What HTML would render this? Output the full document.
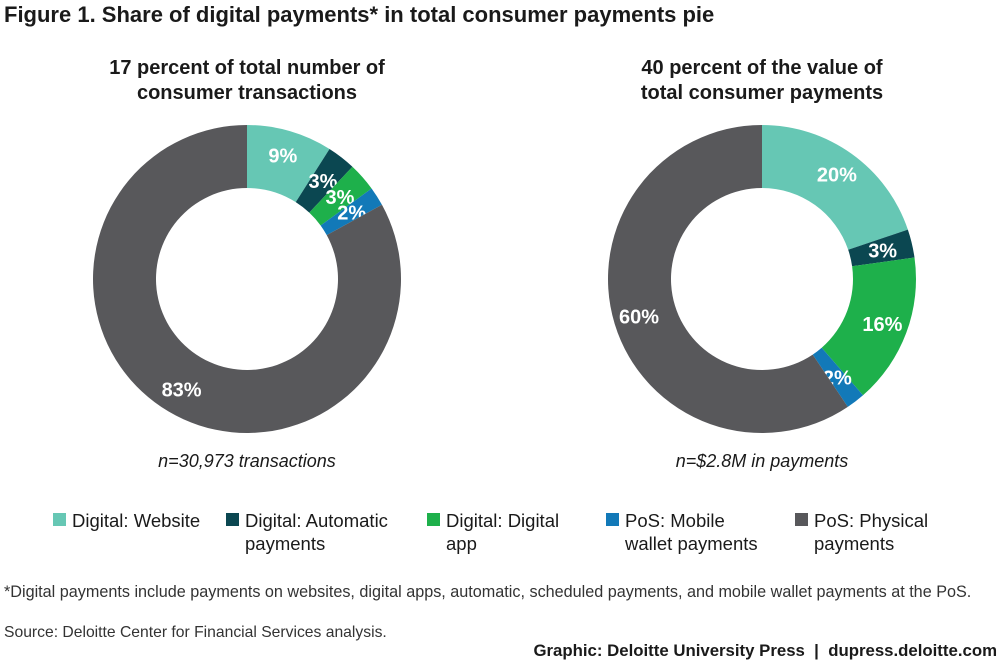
<!DOCTYPE html>
<html><head><meta charset="utf-8"><style>
body{margin:0;background:#fff;font-family:"Liberation Sans",sans-serif;color:#1a1a1a}
#wrap{position:relative;width:1000px;height:664px;overflow:hidden}
.t{position:absolute;white-space:nowrap}
</style></head><body><div id="wrap">
<div class="t" style="left:4px;top:2px;font-size:22px;font-weight:bold">Figure 1. Share of digital payments* in total consumer payments pie</div>
<div class="t" style="left:50px;width:394px;top:56px;text-align:center;font-size:20px;font-weight:bold;line-height:25px;white-space:normal">17 percent of total number of<br>consumer transactions</div>
<div class="t" style="left:565px;width:394px;top:56px;text-align:center;font-size:20px;font-weight:bold;line-height:25px;white-space:normal">40 percent of the value of<br>total consumer payments</div>
<svg id="chart" width="1000" height="664" style="position:absolute;left:0;top:0"></svg>
<div class="t" style="left:50px;width:394px;top:451px;text-align:center;font-size:18px;font-style:italic">n=30,973 transactions</div>
<div class="t" style="left:565px;width:394px;top:451px;text-align:center;font-size:18px;font-style:italic">n=$2.8M in payments</div>
<div id="legend"></div>
<div class="t" style="left:4px;top:583px;font-size:16.2px;color:#333">*Digital payments include payments on websites, digital apps, automatic, scheduled payments, and mobile wallet payments at the PoS.</div>
<div class="t" style="left:4px;top:624px;font-size:15.7px;color:#333">Source: Deloitte Center for Financial Services analysis.</div>
<div class="t" style="right:3px;top:641px;font-size:16.8px;font-weight:bold">Graphic: Deloitte University Press &nbsp;|&nbsp; dupress.deloitte.com</div>
</div>
<script>
const categories=["Digital: Website","Digital: Automatic payments","Digital: Digital app","PoS: Mobile wallet payments","PoS: Physical payments"];
const legendLines=[["Digital: Website"],["Digital: Automatic","payments"],["Digital: Digital","app"],["PoS: Mobile","wallet payments"],["PoS: Physical","payments"]];
const colors=["#66c7b4","#0b4751","#1eb04b","#1279b8","#58585b"];
const leftValues=[9,3,3,2,83];
const rightValues=[20,3,16,2,60];
const NS="http://www.w3.org/2000/svg";
const svg=document.getElementById('chart');
function donut(vals,cx,cy,R,r,prefix){
  const tot=vals.reduce((a,b)=>a+b,0);let a0=0;
  vals.forEach((v,i)=>{
    const a1=a0+v/tot*2*Math.PI;
    const p=(a,rad)=>[cx+rad*Math.sin(a),cy-rad*Math.cos(a)];
    const lg=(a1-a0)>Math.PI?1:0;
    const [x1,y1]=p(a0,R),[x2,y2]=p(a1,R),[x3,y3]=p(a1,r),[x4,y4]=p(a0,r);
    const path=document.createElementNS(NS,'path');
    path.setAttribute('d',`M${x1},${y1}A${R},${R} 0 ${lg} 1 ${x2},${y2}L${x3},${y3}A${r},${r} 0 ${lg} 0 ${x4},${y4}Z`);
    path.setAttribute('fill',colors[i]);
    
    
    svg.appendChild(path);
    const am=(a0+a1)/2;const small=v<5;const lr=small?R-30:(R+r)/2+6;
    let [lx,ly]=p(am,lr);
    const t=document.createElementNS(NS,'text');
    t.setAttribute('x',lx);t.setAttribute('y',ly+7);
    t.setAttribute('text-anchor','middle');t.setAttribute('fill','#fff');
    t.setAttribute('font-size','20');t.setAttribute('font-weight','bold');
    t.setAttribute('font-family','Liberation Sans, sans-serif');
    t.textContent=v+'%';
    
    
    svg.appendChild(t);
    a0=a1;
  });
}
donut(leftValues,247,279,154,91,'left');
donut(rightValues,762,279,154,91,'right');
const lg=document.getElementById('legend');
const lx=[53,226,427,606,795];
categories.forEach((c,i)=>{
  const e=document.createElement('div');
  e.className='t';e.style.left=lx[i]+'px';e.style.top='509px';
  
  
  e.innerHTML=`<span style="position:absolute;left:0;top:4px;width:13px;height:13px;background:${colors[i]}"></span><span style="position:absolute;left:19px;top:0;font-size:18.5px;line-height:23px;white-space:nowrap">${legendLines[i].join('<br>')}</span>`;
  lg.appendChild(e);
});
</script></body></html>
